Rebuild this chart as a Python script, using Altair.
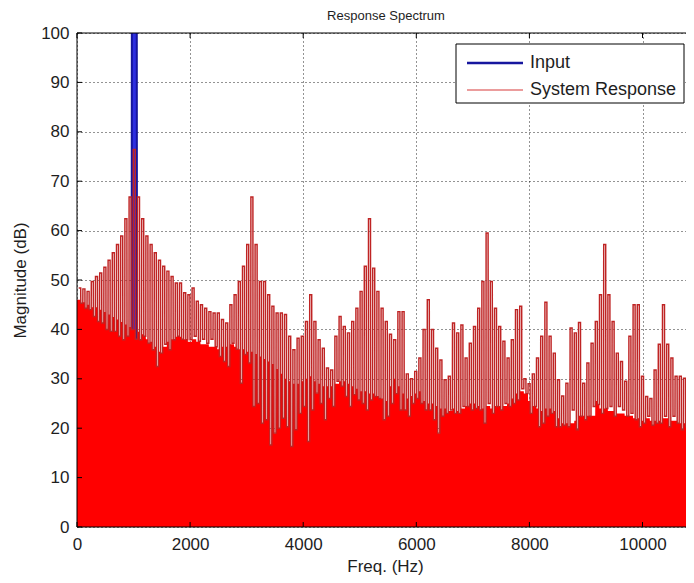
import altair as alt
import numpy as np
import pandas as pd

# ---------------- text ----------------
title_text = "Response Spectrum"
x_title = "Freq. (Hz)"
y_title = "Magnitude (dB)"
legend_labels = ["Input", "System Response"]
x_ticks = [0, 2000, 4000, 6000, 8000, 10000]
y_ticks = [0, 10, 20, 30, 40, 50, 60, 70, 80, 90, 100]

# ---------------- data ----------------
# System response: one value per spectral line (top of each spike)
peak_db = [
    48.4, 48.2, 47.7, 49.7, 50.7, 51.4, 52.6, 54.0, 55.5, 57.2, 58.9, 62.4, 66.8, 76.4, 66.8, 62.4,
    58.9, 57.2, 55.5, 54.0, 52.8, 51.8, 50.7, 49.4,
    49.4, 47.4, 47.0, 48.4, 45.7, 45.0, 44.3, 43.6, 43.3, 43.3, 42.0, 41.3, 45.0, 47.0, 49.7, 52.8,
    57.2, 66.8, 57.2, 49.7, 49.7, 47.0, 44.7, 43.3,
    43.3, 43.0, 38.6, 35.9, 38.2, 38.6, 41.6, 47.0, 41.6, 37.9, 36.2, 32.2, 31.8, 38.6, 42.6, 40.6,
    39.3, 41.6, 44.3, 47.7, 52.8, 62.4, 52.4, 47.7, 44.3,
    41.6, 39.0, 37.9, 43.6, 43.6, 31.0, 30.0, 31.5, 34.2, 40.0, 46.0, 40.0, 36.2, 33.8, 29.8, 30.5,
    41.3, 39.3, 40.9, 34.2, 37.2, 40.6, 44.3, 49.7,
    59.5, 49.7, 44.3, 40.6, 37.6, 34.2, 37.9, 44.0, 44.7, 30.0, 29.0, 31.0, 34.2, 38.6, 45.5, 38.6,
    35.2, 29.8, 26.5, 29.1, 40.3, 39.3, 41.4, 29.1, 33.2, 37.2,
    41.6, 47.0, 57.2, 47.0, 41.6, 35.2, 33.5, 29.5, 38.6, 45.0, 45.0, 30.5, 26.4, 26.0, 31.8, 37.0,
    45.0, 37.0, 34.2, 30.5, 30.5, 30.1, 39.5, 39.5,
]
# bottom of the gap that follows each spike
trough_db = [
    45.3, 44.3, 44.0, 42.6, 41.6, 41.3, 40.0, 39.6, 39.6, 38.6, 37.9, 38.6, 40.0, 38.0, 37.9, 38.6,
    37.2, 35.9, 32.5, 35.2, 37.0, 35.9, 37.9, 38.6,
    38.0, 37.9, 37.9, 38.6, 37.6, 38.0, 37.2, 38.0, 36.5, 34.5, 33.5, 32.5, 37.2, 36.0, 29.1, 34.9,
    33.2, 24.4, 25.0, 21.0, 21.7, 16.6, 19.0, 20.0,
    22.0, 20.3, 16.3, 19.7, 23.0, 24.4, 17.3, 23.7, 27.1, 25.0, 21.7, 26.0, 24.4, 29.5, 28.5, 26.4,
    24.4, 26.8, 25.7, 25.0, 23.7, 25.7, 26.4, 26.0, 21.7,
    22.4, 25.0, 27.0, 23.7, 23.7, 22.4, 25.0, 26.0, 25.0, 23.7, 23.7, 21.7, 19.0, 22.4, 23.0, 23.7,
    23.0, 23.0, 24.4, 24.4, 23.7, 24.0, 23.7, 21.0,
    25.0, 23.0, 24.4, 23.7, 25.0, 24.4, 25.0, 25.7, 28.0, 27.0, 23.0, 24.4, 20.3, 21.0, 22.4, 23.0,
    20.3, 20.3, 20.6, 20.3, 23.7, 19.7, 22.4, 21.7, 22.4,
    24.4, 24.8, 23.0, 24.0, 24.4, 22.4, 24.4, 23.7, 22.4, 23.0, 21.7, 20.3, 21.0, 22.4, 20.6, 21.0,
    21.0, 22.4, 20.3, 22.4, 21.0, 19.7, 20.3, 20.3, 19.0,
]
# top of the dense (solid) noise band under each spike
floor_db = [
    46.0, 45.5, 45.0, 44.5, 44.5, 44.0, 43.5, 43.0, 42.5, 42.0, 41.5, 41.0, 40.5, 40.0, 39.5, 39.0,
    38.0, 37.5, 36.5, 35.5, 36.5, 37.5, 38.0, 38.5,
    38.5, 38.0, 37.5, 38.0, 37.5, 37.0, 37.0, 36.5, 36.5, 36.0, 36.5, 36.5, 37.0, 36.5, 36.0, 36.0,
    35.5, 35.5, 35.0, 34.5, 34.0, 33.5, 33.0, 32.0, 31.0,
    30.0, 29.5, 29.0, 29.0, 29.5, 30.0, 30.5, 29.5, 29.0, 28.5, 28.5, 28.5, 29.0, 29.5, 29.5, 29.0,
    28.5, 28.0, 27.5, 27.5, 27.0, 27.0, 26.5, 26.0,
    25.5, 28.5, 30.0, 28.5, 27.0, 26.0, 26.5, 27.0, 27.5, 25.5, 25.0, 25.0, 24.5, 24.0, 24.0, 23.5,
    24.0, 23.5, 24.0, 24.5, 25.0, 25.0, 24.5, 24.0,
    24.5, 24.0, 24.5, 24.5, 24.5, 25.0, 26.0, 27.0, 27.5, 27.0, 25.5, 24.5, 24.0, 23.5, 24.0, 24.0,
    23.5, 22.0, 21.0, 21.0, 21.0, 21.5, 22.5, 22.5, 22.5,
    22.5, 25.5, 24.0, 24.0, 23.5, 23.5, 23.0, 23.0, 22.5, 22.5, 22.0, 22.0, 21.5, 22.0, 21.5, 21.5,
    21.5, 22.0, 22.0, 21.5, 21.5, 21.0, 21.0, 20.5, 18.0,
]
# Input tone (a single line near 1 kHz, its top is off the chart)
input_freq = [963, 972, 1055, 1064]
input_db = [-20, 140, 140, -20]

# ---------------- build tables ----------------
HZ_PER_PX = 10000 / 565.5          # frequency bin geometry of the original FFT plot
bin_hz = 4.2 * HZ_PER_PX
first_hz = 2.7 * HZ_PER_PX
spike_freq = first_hz + bin_hz * np.arange(len(peak_db))
half_top = 1.0 * HZ_PER_PX
gap_a = 1.1 * HZ_PER_PX
gap_b = 3.1 * HZ_PER_PX

line_rows, area_rows = [], [{"f": 0.0, "db": floor_db[0]}]
for k, f in enumerate(spike_freq):
    low = min(trough_db[k], floor_db[k])
    line_rows += [
        {"f": f - half_top, "db": peak_db[k]},
        {"f": f + half_top, "db": peak_db[k]},
        {"f": f + gap_a, "db": trough_db[k]},
        {"f": f + gap_b, "db": trough_db[k]},
    ]
    area_rows += [
        {"f": f - half_top, "db": floor_db[k]},
        {"f": f + half_top, "db": floor_db[k]},
        {"f": f + gap_a, "db": low},
        {"f": f + gap_b, "db": low},
    ]
resp_line = pd.DataFrame(line_rows)
resp_area = pd.DataFrame(area_rows)
inp = pd.DataFrame({"f": input_freq, "db": input_db})
xt = pd.DataFrame({"v": x_ticks})
yt = pd.DataFrame({"v": y_ticks})

# ---------------- layout ----------------
W, H = 609, 494
X_MAX = W * HZ_PER_PX
FONT = "Liberation Sans"
TXT = "#1e1e1e"
RED = "#ff0000"
RED_LINE = "#bf2424"
BLUE_LINE = "#16169e"
BLUE_FILL = "#2e2ee0"

xs = alt.Scale(domain=[0, X_MAX], nice=False, zero=False)
ys = alt.Scale(domain=[0, 100], nice=False)

x_axis = alt.Axis(values=x_ticks, format="d", grid=True, gridDash=[1, 3], gridColor="#000000",
                  gridOpacity=0.85, ticks=False, domain=False, labelPadding=9, labelFontSize=17,
                  labelFont=FONT, labelColor=TXT, labelFlush=False, labelOverlap=False,
                  title=x_title, titleFont=FONT, titleFontSize=17, titleFontWeight="normal",
                  titleColor=TXT, titleX=308, titleY=39, titleBaseline="middle")
y_axis = alt.Axis(values=y_ticks, grid=True, gridDash=[1, 3], gridColor="#000000", gridOpacity=0.85,
                  ticks=False, domain=False, labelPadding=8, labelFontSize=17, labelFont=FONT,
                  labelColor=TXT, labelFlush=False, labelOverlap=False,
                  title=y_title, titleFont=FONT, titleFontSize=17, titleFontWeight="normal",
                  titleColor=TXT, titleX=-57, titleY=247, titleBaseline="middle")


def X(field):
    return alt.X(field, type="quantitative", scale=xs, axis=x_axis)


def Y(field):
    return alt.Y(field, type="quantitative", scale=ys, axis=y_axis)


inp_area = alt.Chart(inp).mark_area(color=BLUE_FILL, clip=True).encode(x=X("f"), y=Y("db"))
inp_line = alt.Chart(inp).mark_line(color=BLUE_LINE, strokeWidth=2, clip=True).encode(x=X("f"), y=Y("db"))

resp_fill = alt.Chart(resp_area).mark_area(color=RED, clip=True).encode(x=X("f"), y=Y("db"))
resp_stroke = alt.Chart(resp_line).mark_line(color=RED_LINE, strokeWidth=1.45, clip=True).encode(
    x=X("f"), y=Y("db"))

# frame: left, bottom and top borders with inward ticks (MATLAB style)
frame_src = pd.DataFrame({"a": [0]})
left_border = alt.Chart(frame_src).mark_rule(color="#000000", strokeWidth=1).encode(
    x=alt.value(0), y=alt.value(0), y2=alt.value(H))
bottom_border = alt.Chart(frame_src).mark_rule(color="#000000", strokeWidth=1).encode(
    x=alt.value(0), x2=alt.value(W), y=alt.value(H))
top_border = alt.Chart(frame_src).mark_rule(color="#000000", strokeWidth=1).encode(
    x=alt.value(0), x2=alt.value(W), y=alt.value(0))
y_tick_marks = alt.Chart(yt).mark_rule(color="#000000").encode(
    y=Y("v"), x=alt.value(0), x2=alt.value(5))
xb_tick_marks = alt.Chart(xt).mark_rule(color="#000000").encode(
    x=X("v"), y=alt.value(H - 5), y2=alt.value(H))
xt_tick_marks = alt.Chart(xt).mark_rule(color="#000000").encode(
    x=X("v"), y=alt.value(0), y2=alt.value(5))

# chart title (as text above the frame)
title_mark = alt.Chart(frame_src).mark_text(align="center", baseline="middle", font=FONT, fontSize=13,
                                            color=TXT, text=title_text).encode(
    x=alt.value(309), y=alt.value(-17))

# legend box
leg_box = alt.Chart(frame_src).mark_rect(fill="#ffffff", stroke="#000000", strokeWidth=1).encode(
    x=alt.value(379), x2=alt.value(607), y=alt.value(11), y2=alt.value(70))
leg_in_line = alt.Chart(frame_src).mark_rule(color=BLUE_LINE, strokeWidth=2.5).encode(
    x=alt.value(390), x2=alt.value(446), y=alt.value(30))
leg_out_line = alt.Chart(frame_src).mark_rule(color="#d83a3a", strokeWidth=1.2).encode(
    x=alt.value(390), x2=alt.value(446), y=alt.value(57))
leg_in_txt = alt.Chart(frame_src).mark_text(align="left", baseline="middle", font=FONT, fontSize=18,
                                             color=TXT, text=legend_labels[0]).encode(
    x=alt.value(453), y=alt.value(30))
leg_out_txt = alt.Chart(frame_src).mark_text(align="left", baseline="middle", font=FONT, fontSize=18,
                                              color=TXT, text=legend_labels[1]).encode(
    x=alt.value(453), y=alt.value(57))

chart = alt.layer(
    inp_area, inp_line, resp_fill, resp_stroke,
    left_border, bottom_border, top_border, y_tick_marks, xb_tick_marks, xt_tick_marks,
    title_mark, leg_box, leg_in_line, leg_out_line, leg_in_txt, leg_out_txt,
).properties(
    width=W, height=H,
    autosize=alt.AutoSizeParams(type="none"),
    padding={"left": 69, "top": 25, "right": 0, "bottom": 52},
).configure_view(strokeWidth=0)

chart.save("out.html", embed_options={"renderer": "svg", "actions": False})
